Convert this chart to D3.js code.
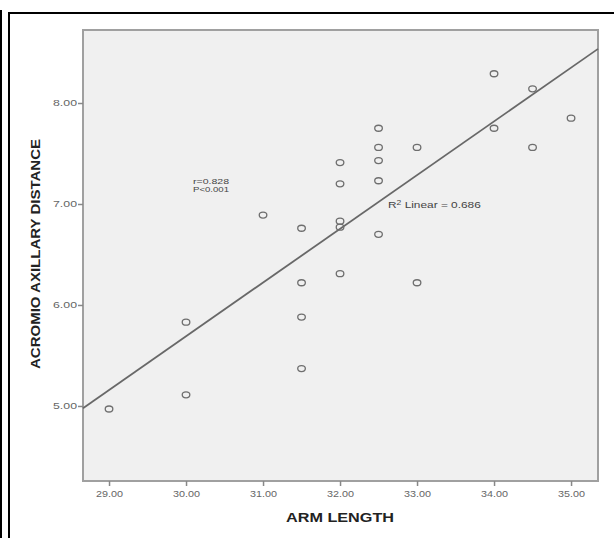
<!DOCTYPE html>
<html>
<head>
<meta charset="utf-8">
<script src="https://cdn.jsdelivr.net/npm/d3@7"></script>
<style>
  body { margin: 0; background: #fff; }
  svg { display: block; }
</style>
</head>
<body>
<svg id="chart" width="614" height="538"></svg>
<script>
// dados
const armLength = [29, 30, 30, 31, 31.5, 31.5, 31.5, 31.5, 32, 32, 32, 32, 32,
  32.5, 32.5, 32.5, 32.5, 32.5, 33, 33, 34, 34, 34.5, 34.5, 35];
const acromioAxillary = [4.97, 5.11, 5.83, 6.89, 6.76, 6.22, 5.88, 5.37, 7.41, 7.20, 6.83, 6.77, 6.31,
  7.75, 7.56, 7.43, 7.23, 6.70, 7.56, 6.22, 8.29, 7.75, 8.14, 7.56, 7.85];
const xTicks = [29, 30, 31, 32, 33, 34, 35];
const yTicks = [5, 6, 7, 8];
const fitLine = { slope: 0.532, intercept: -10.27 };
const statsText = ['r=0.828', 'P<0.001'];

const font = 'Liberation Sans, Arial, sans-serif';
const svg = d3.select('#chart');

// moldura externa
svg.append('line').attr('x1', 1).attr('x2', 1).attr('y1', 10).attr('y2', 538)
  .attr('stroke', '#000').attr('stroke-width', 2);
svg.append('line').attr('x1', 9).attr('x2', 9).attr('y1', 12).attr('y2', 538)
  .attr('stroke', '#000').attr('stroke-width', 2);
svg.append('line').attr('x1', 8).attr('x2', 614).attr('y1', 13).attr('y2', 13)
  .attr('stroke', '#000').attr('stroke-width', 2);

const plot = { left: 83, top: 30, right: 598, bottom: 481 };

const x = d3.scaleLinear().domain([28.662, 35.35]).range([plot.left, plot.right]);
const y = d3.scaleLinear().domain([4.257, 8.723]).range([plot.bottom, plot.top]);

svg.append('rect')
  .attr('x', plot.left).attr('y', plot.top)
  .attr('width', plot.right - plot.left).attr('height', plot.bottom - plot.top)
  .attr('fill', '#f0f0f0')
  .attr('stroke', '#a0a0a0')
  .attr('stroke-width', 2);

// eixos
const xAxis = svg.append('g')
  .attr('transform', `translate(0,${plot.bottom})`)
  .call(d3.axisBottom(x).tickValues(xTicks).tickFormat(d3.format('.2f')).tickSizeOuter(0).tickSize(5));
const yAxis = svg.append('g')
  .attr('transform', `translate(${plot.left},0)`)
  .call(d3.axisLeft(y).tickValues(yTicks).tickFormat(d3.format('.2f')).tickSizeOuter(0).tickSize(5));

[xAxis, yAxis].forEach(g => {
  g.select('.domain').remove();
  g.selectAll('.tick line').attr('stroke', '#888').attr('stroke-width', 1.5);
  g.selectAll('.tick text')
    .attr('fill', '#666')
    .attr('lengthAdjust', 'spacingAndGlyphs')
    .style('font-family', font)
    .style('font-size', '9px');
});
xAxis.selectAll('.tick text').attr('dy', '0.9em').attr('y', 8).attr('textLength', 27);
yAxis.selectAll('.tick text').attr('x', -6).attr('textLength', 24);

// linha de regressão
const [x0, x1] = x.domain();
svg.append('line')
  .attr('x1', x(x0)).attr('y1', y(fitLine.intercept + fitLine.slope * x0))
  .attr('x2', x(x1)).attr('y2', y(fitLine.intercept + fitLine.slope * x1))
  .attr('stroke', '#686868')
  .attr('stroke-width', 1.8);

// pontos
svg.selectAll('.pt')
  .data(armLength.map((a, i) => [a, acromioAxillary[i]]))
  .enter()
  .append('ellipse')
  .attr('class', 'pt')
  .attr('cx', d => x(d[0]))
  .attr('cy', d => y(d[1]))
  .attr('rx', 3.8)
  .attr('ry', 3)
  .attr('fill', 'none')
  .attr('stroke', '#6e6e6e')
  .attr('stroke-width', 1.3);

// anotações
svg.selectAll('.stats')
  .data(statsText)
  .enter()
  .append('text')
  .attr('class', 'stats')
  .attr('x', 193)
  .attr('y', (d, i) => 184 + i * 8)
  .attr('fill', '#444')
  .attr('textLength', 36)
  .attr('lengthAdjust', 'spacingAndGlyphs')
  .style('font-family', font)
  .style('font-size', '8px')
  .text(d => d);

const r2 = svg.append('text')
  .attr('transform', 'translate(388,208) scale(1.32,1)')
  .attr('fill', '#444')
  .style('font-family', font)
  .style('font-size', '9px');
r2.append('tspan').text('R');
r2.append('tspan').attr('dy', -3.5).style('font-size', '6.5px').text('2');
r2.append('tspan').attr('dy', 3.5).text(' Linear = 0.686');

// títulos dos eixos
svg.append('text')
  .attr('x', 340).attr('y', 522)
  .attr('text-anchor', 'middle')
  .attr('fill', '#222')
  .attr('textLength', 108)
  .attr('lengthAdjust', 'spacingAndGlyphs')
  .style('font-family', font)
  .style('font-weight', 'bold')
  .style('font-size', '13.5px')
  .text('ARM LENGTH');

svg.append('text')
  .attr('transform', 'translate(40,254) rotate(-90)')
  .attr('text-anchor', 'middle')
  .attr('fill', '#222')
  .attr('textLength', 230)
  .attr('lengthAdjust', 'spacingAndGlyphs')
  .style('font-family', font)
  .style('font-weight', 'bold')
  .style('font-size', '13px')
  .text('ACROMIO AXILLARY DISTANCE');
</script>
</body>
</html>
